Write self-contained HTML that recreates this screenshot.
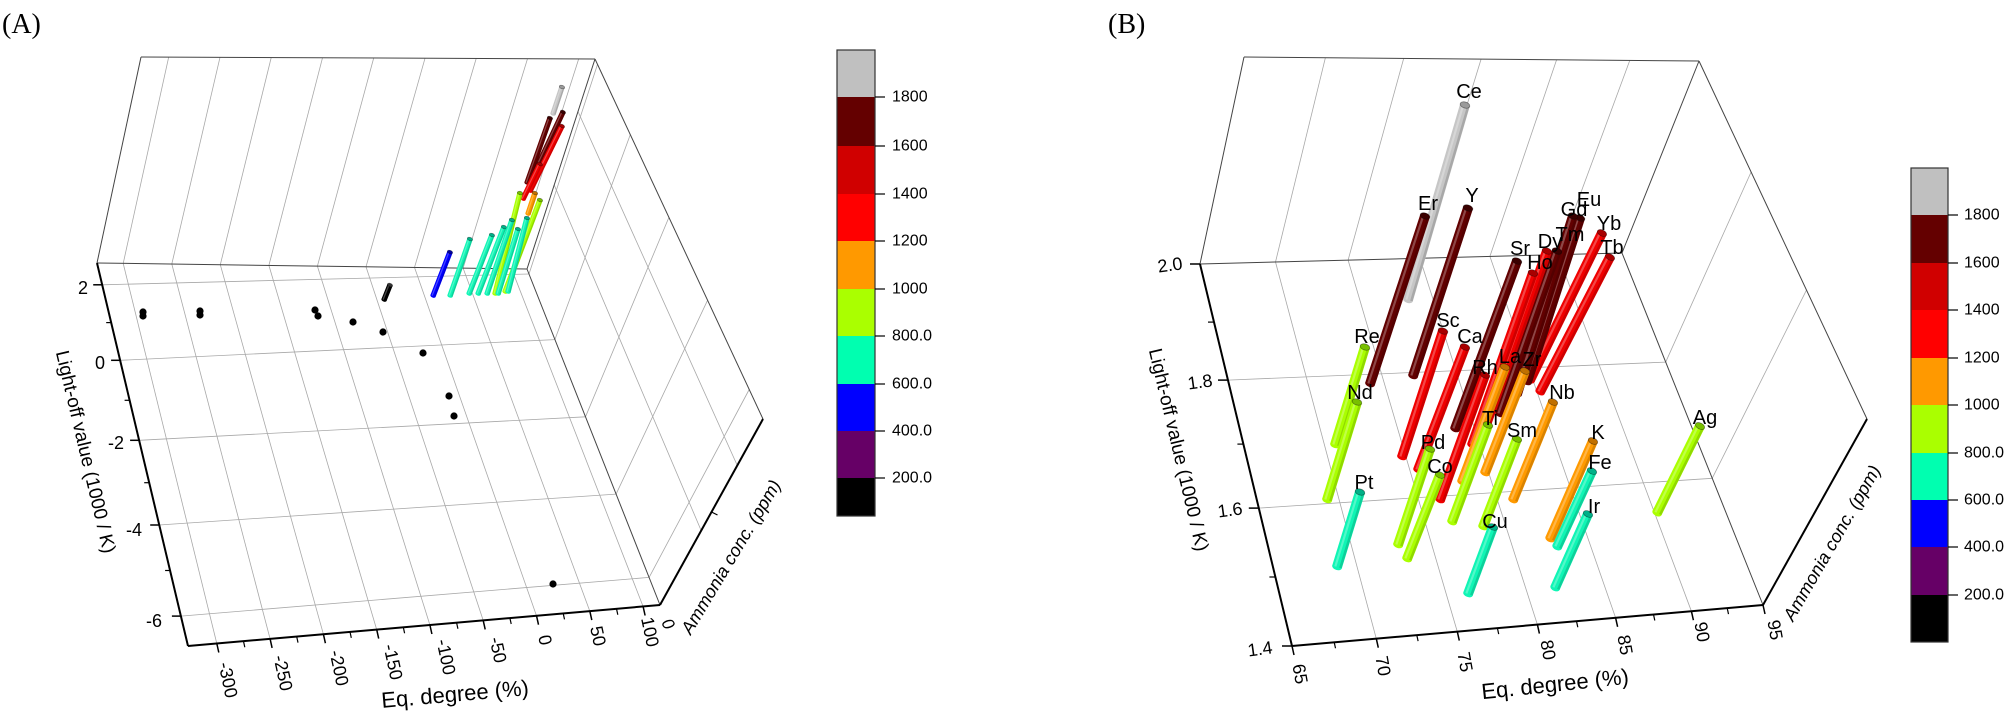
<!DOCTYPE html>
<html><head><meta charset="utf-8"><style>
html,body{margin:0;padding:0;background:#fff;}
svg{display:block;}
</style></head><body>
<svg id="s" width="2007" height="716" viewBox="0 0 2007 716" xmlns="http://www.w3.org/2000/svg" font-family="'Liberation Sans', Arial, sans-serif">
<rect width="2007" height="716" fill="#fff"/>
<text x="2" y="33" font-family="'Liberation Serif', serif" font-size="28">(A)</text>
<text x="1108" y="33" font-family="'Liberation Serif', serif" font-size="28">(B)</text>
</svg>
<script>
(function(){
const S=document.getElementById('s');let h='';
const L=(a,b,t)=>[a[0]+(b[0]-a[0])*t,a[1]+(b[1]-a[1])*t];
function line(p,q,c,w){h+=`<line x1="${p[0].toFixed(1)}" y1="${p[1].toFixed(1)}" x2="${q[0].toFixed(1)}" y2="${q[1].toFixed(1)}" stroke="${c}" stroke-width="${w}"/>`;}
function text(x,y,s,fs,rot,extra){h+=`<text x="${x}" y="${y}" font-size="${fs}" text-anchor="middle" dominant-baseline="central" transform="rotate(${rot} ${x} ${y})" ${extra||''}>${s}</text>`;}
const COL={g:['#c6c6c6','#9a9a9a'],dr:['#620000','#3a0000'],r2:['#d40000','#900000'],r:['#f00000','#a80000'],o:['#ff9a00','#c07000'],y:['#aaff00','#78c000'],c:['#10f5b5','#00b088'],b:['#0000ff','#0000a0'],k:['#000','#333']};
function cyl(b,t,ck,w){
 const col=COL[ck][0],cap=COL[ck][1];
 const dx=t[0]-b[0],dy=t[1]-b[1],len=Math.hypot(dx,dy);const nx=-dy/len*w/2,ny=dx/len*w/2;const ang=Math.atan2(dy,dx)*180/Math.PI;
 h+=`<ellipse cx="${b[0]}" cy="${b[1]}" rx="${w*0.3}" ry="${w/2}" transform="rotate(${ang} ${b[0]} ${b[1]})" fill="${col}"/>`;
 h+=`<polygon points="${b[0]+nx},${b[1]+ny} ${t[0]+nx},${t[1]+ny} ${t[0]-nx},${t[1]-ny} ${b[0]-nx},${b[1]-ny}" fill="${col}"/>`;
 h+=`<line x1="${b[0]-nx*0.35}" y1="${b[1]-ny*0.35}" x2="${t[0]-nx*0.35}" y2="${t[1]-ny*0.35}" stroke="rgba(255,255,255,0.28)" stroke-width="${w*0.22}"/>`;
 h+=`<line x1="${b[0]+nx*0.7}" y1="${b[1]+ny*0.7}" x2="${t[0]+nx*0.7}" y2="${t[1]+ny*0.7}" stroke="rgba(0,0,0,0.15)" stroke-width="${w*0.25}"/>`;
 h+=`<ellipse cx="${t[0]}" cy="${t[1]}" rx="${w*0.3}" ry="${w/2}" transform="rotate(${ang} ${t[0]} ${t[1]})" fill="${cap}" stroke="rgba(0,0,0,.45)" stroke-width="0.7"/>`;
}
const GC='#a8a8a8',GW=0.8,EC='#444',EW=1;
function box(F,BTL,BTR,RBB,tE,yl,yr,amm){
 const [TL,TR,BR,BL]=F;
 // top face eq lines
 tE.forEach(t=>line(L(TL,TR,t),L(BTL,BTR,t),GC,GW));
 // front face eq lines
 tE.forEach(t=>line(L(TL,TR,t),L(BL,BR,t),GC,GW));
 // front face light-off lines
 yl.forEach((f,i)=>line(L(TL,BL,f),L(TR,BR,yr[i]),GC,GW));
 // right face light-off lines
 yr.forEach(f=>line(L(TR,BR,f),L(BTR,RBB,f),GC,GW));
 amm.forEach(f=>line(L(TR,BTR,f),L(BR,RBB,f),GC,GW));
 // edges
 line(TL,BTL,EC,EW);line(BTL,BTR,EC,EW);line(BTR,RBB,EC,EW);line(TR,BTR,EC,EW);line(TL,TR,EC,EW);line(TR,BR,EC,EW);
 // axes
 line(TL,BL,'#000',2);line(BL,BR,'#000',2);line(BR,RBB,'#000',2);
}
// ---------- Panel A ----------
const FA=[[97,263],[527,269],[660,605],[188,646]];
const tA=[];for(let k=0;k<9;k++)tA.push(0.061+k*0.1129);
const ylA=[0.057,0.254,0.463,0.684,0.922],yrA=[0.015,0.21,0.44,0.67,0.918];
box(FA,[141,57],[595,59],[763,419],tA,ylA,yrA,[0.4,0.75]);
// y ticks A
ylA.forEach((f,i)=>{const p=L(FA[0],FA[3],f);line(p,[p[0]-9,p[1]],'#000',1.5);if(i<4){const q=L(FA[0],FA[3],(f+ylA[i+1])/2);line(q,[q[0]-5,q[1]],'#000',1.2);}});
// x ticks A
tA.forEach((t,i)=>{const p=L(FA[3],FA[2],t);line(p,[p[0]+2,p[1]+9],'#000',1.5);if(i<8){const q=L(FA[3],FA[2],t+0.0565);line(q,[q[0]+1.3,q[1]+6],'#000',1.2);}});
{const p=L([660,605],[763,419],0.5);line(p,[p[0]+6,p[1]+3],'#000',1.2);}
[['2',83,288],['0',100,363],['-2',116,443],['-4',134,530],['-6',154,621]].forEach(a=>text(a[1],a[2],a[0],18,0));
[['-300',228,680],['-250',283,673],['-200',339,668],['-150',393,662],['-100',446,657],['-50',498,650],['0',545,640],['50',598,636],['100',650,632]].forEach(a=>text(a[1],a[2],a[0],18,78));
text(85,452,'Light-off value (1000 / K)',19,76.7);
text(455,694,'Eq. degree (%)',22,-5);
text(668,624,'0',17,60,'font-style="italic"');
text(731,557,'Ammonia conc. (ppm)',18,-59,'font-style="italic"');
// dots A
[[143,312],[143,316],[200,311],[200,315],[315,310],[318,316],[353,322],[383,332],[423,353],[449,396],[454,416],[553,584]].forEach(p=>h+=`<circle cx="${p[0]}" cy="${p[1]}" r="3.6" fill="#000"/>`);
cyl([384,300],[390,285],'k',5.5);
// cylinders A
[[[433,296],[450,252],'b'],[[450,296],[470,239],'c'],[[469,294],[492,235],'c'],[[478,294],[504,227],'c'],
 [[553,114],[562,87],'g'],[[533,176],[563,112],'dr'],[[527,183],[550,118],'dr'],[[530,191],[562,126],'r'],[[523,199],[540,164],'r'],
 [[528,214],[535,193],'o'],[[495,294],[520,193],'y'],[[505,292],[540,200],'y'],[[487,294],[512,220],'c'],[[498,294],[518,229],'c'],[[508,292],[527,218],'c']
].forEach(a=>cyl(a[0],a[1],a[2],5.5));
// ---------- Panel B ----------
const FB=[[1200,264],[1622,253],[1763,605],[1292,646]];
const tB=[0,0.179,0.351,0.521,0.687,0.848,1];
box(FB,[1244,57],[1699,61],[1867,419],tB.slice(1,6),[0.304,0.639],[0.31,0.64],[]);
const ylB=[0,0.304,0.639,1];
ylB.forEach((f,i)=>{const p=L(FB[0],FB[3],f);line(p,[p[0]-10,p[1]],'#000',1.5);if(i<3){const q=L(FB[0],FB[3],(f+ylB[i+1])/2);line(q,[q[0]-6,q[1]],'#000',1.2);}});
tB.forEach((t,i)=>{const p=L(FB[3],FB[2],t);line(p,[p[0]+2,p[1]+9],'#000',1.5);if(i<6){const q=L(FB[3],FB[2],(t+tB[i+1])/2);line(q,[q[0]+1.3,q[1]+6],'#000',1.2);}});
[['2.0',1170,265],['1.8',1200,382],['1.6',1230,510],['1.4',1260,649]].forEach(a=>text(a[1],a[2],a[0],18,-8));
[['65',1300,674],['70',1383,666],['75',1465,662],['80',1548,650],['85',1625,645],['90',1702,632],['95',1775,630]].forEach(a=>text(a[1],a[2],a[0],18,80));
text(1178,450,'Light-off value (1000 / K)',19,76.7);
text(1555,684,'Eq. degree (%)',22,-6);
text(1832,543,'Ammonia conc. (ppm)',18,-60,'font-style="italic"');
const CB=[
['Ce',[1408,300],[1465,105],'g',[1469,92]],
['Er',[1370,384],[1425,216],'dr',[1428,204]],
['Y',[1413,376],[1468,208],'dr',[1472,196]],
['Sr',[1455,429],[1517,261],'dr',[1520,249]],
['Eu',[1527,382],[1580,218],'dr',[1589,200]],
['Gd',[1517,394],[1573,216],'dr',[1574,210]],
['Tm',[1500,414],[1557,251],'dr',[1570,235]],
['Dy',[1487,422],[1547,251],'r',[1550,242]],
['Ho',[1472,445],[1533,273],'r',[1540,263]],
['Yb',[1530,380],[1602,233],'r',[1609,224]],
['Tb',[1540,392],[1610,257],'r',[1612,248]],
['Sc',[1402,457],[1443,331],'r',[1448,321]],
['Ca',[1418,470],[1465,347],'r',[1470,337]],
['Re',[1335,445],[1365,347],'y',[1367,337]],
['Rh',[1440,500],[1485,375],'r',[1485,368]],
['La',[1462,482],[1505,367],'o',[1510,357]],
['Zr',[1485,473],[1525,371],'o',[1532,360]],
['Nb',[1513,500],[1553,402],'o',[1562,393]],
['Nd',[1327,500],[1357,402],'y',[1360,393]],
['Ti',[1452,522],[1488,425],'y',[1490,419]],
['Sm',[1483,527],[1517,439],'y',[1522,431]],
['Ag',[1657,513],[1700,426],'y',[1705,418]],
['K',[1550,539],[1593,441],'o',[1598,433]],
['Pd',[1398,545],[1430,449],'y',[1433,443]],
['Fe',[1557,547],[1592,471],'c',[1600,463]],
['Co',[1407,559],[1440,475],'y',[1440,467]],
['Pt',[1337,567],[1360,492],'c',[1364,483]],
['Ir',[1555,588],[1588,514],'c',[1594,507]],
['Cu',[1468,594],[1493,527],'c',[1495,522]]
];
CB.slice().sort((a,b)=>a[1][1]-b[1][1]).forEach(a=>cyl(a[1],a[2],a[3],10));
CB.forEach(a=>text(a[4][0],a[4][1],a[0],20,0));
// ---------- colorbars ----------
const cbc=['#c0c0c0','#640000','#d00000','#ff0000','#ff9900','#aaff00','#00ffb0','#0000ff','#660066','#000000'];
const labs=['1800','1600','1400','1200','1000','800.0','600.0','400.0','200.0'];
function cbar(x0,x1,top,bot,bs,tx){
 const ys=[top].concat(bs).concat([bot]);
 for(let i=0;i<10;i++)h+=`<rect x="${x0}" y="${ys[i]}" width="${x1-x0}" height="${ys[i+1]-ys[i]}" fill="${cbc[i]}"/>`;
 h+=`<rect x="${x0}" y="${top}" width="${x1-x0}" height="${bot-top}" fill="none" stroke="#333" stroke-width="1.2"/>`;
 bs.forEach((y,i)=>{line([x1,y],[x1+10,y],'#000',1.2);h+=`<text x="${tx}" y="${y}" font-size="16" dominant-baseline="central">${labs[i]}</text>`;});
}
cbar(837,875,50,516,[97,146,194,241,289,336,384,431,478],892);
cbar(1911,1948,168,642,[215,263,310,358,405,453,500,547,595],1964);
S.insertAdjacentHTML('beforeend',h);
})();
</script>
</body></html>
